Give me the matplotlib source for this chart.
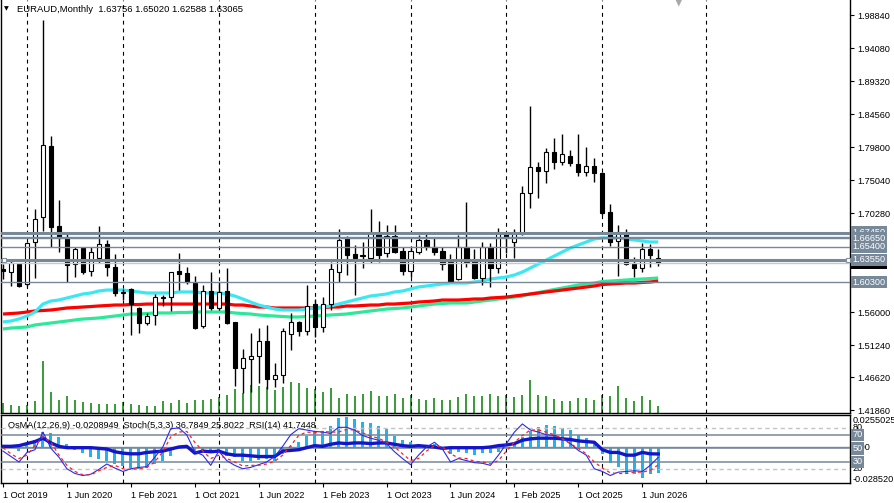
import matplotlib
matplotlib.use("Agg")
import matplotlib.pyplot as plt
from matplotlib.patches import Rectangle

plt.rcParams['font.family'] = ['Liberation Sans', 'DejaVu Sans']

# ---------------- data ----------------
symbol = "EURAUD,Monthly"
opens = [1.6220, 1.6177, 1.6293, 1.6004, 1.6610, 1.6970, 1.7994, 1.6841, 1.6668, 1.6293,
         1.6523, 1.6192, 1.6379, 1.6581, 1.6249, 1.5880, 1.5932, 1.5658, 1.5442, 1.5557,
         1.5803, 1.5817, 1.6192, 1.6163, 1.6019, 1.5398, 1.5903, 1.5658, 1.5903, 1.5456,
         1.4792, 1.4922, 1.4966, 1.5182, 1.4634, 1.4691, 1.5283, 1.5456, 1.5326, 1.5716,
         1.5384, 1.5716, 1.6177, 1.6668, 1.6437, 1.6415, 1.6379, 1.6740, 1.6451, 1.6697,
         1.6480, 1.6192, 1.6466, 1.6639, 1.6538, 1.6480, 1.6321, 1.6076, 1.6538, 1.6336,
         1.6091, 1.6538, 1.6235, 1.6740, 1.6610, 1.6726, 1.7316, 1.7692, 1.7634, 1.7908,
         1.7764, 1.7850, 1.7735, 1.7620, 1.7706, 1.7605, 1.7043, 1.6624, 1.6740, 1.6293,
         1.6235, 1.6509, 1.63756]
highs = [1.6290, 1.6336, 1.6307, 1.6610, 1.7086, 1.9812, 1.8139, 1.7216, 1.6725, 1.6538,
         1.6538, 1.6538, 1.6841, 1.6639, 1.6437, 1.5932, 1.5946, 1.5673, 1.5586, 1.5860,
         1.5845, 1.6177, 1.6451, 1.6249, 1.6120, 1.5990, 1.6177, 1.6033, 1.6235, 1.5456,
         1.5066, 1.5297, 1.5369, 1.5413, 1.4864, 1.5369, 1.5586, 1.5470, 1.5990, 1.5788,
         1.5817, 1.6321, 1.6797, 1.6697, 1.6567, 1.6610, 1.7086, 1.6913, 1.6855, 1.6855,
         1.6538, 1.6523, 1.6711, 1.6740, 1.6682, 1.6538, 1.6437, 1.6711, 1.7187, 1.6509,
         1.6610, 1.6596, 1.6812, 1.6755, 1.6797, 1.7417, 1.8571, 1.7764, 1.7966, 1.8110,
         1.8168, 1.7937, 1.8168, 1.7980, 1.7822, 1.7620, 1.7158, 1.6855, 1.6797, 1.6393,
         1.6596, 1.6581, 1.65020]
lows = [1.6080, 1.5975, 1.5960, 1.5980, 1.6091, 1.6768, 1.6538, 1.6466, 1.6033, 1.6105,
        1.6148, 1.6120, 1.6307, 1.6120, 1.5831, 1.5773, 1.5268, 1.5297, 1.5413, 1.5413,
        1.5687, 1.5615, 1.5918, 1.6004, 1.5355, 1.5369, 1.5629, 1.5629, 1.5427, 1.4533,
        1.4432, 1.4446, 1.4576, 1.4490, 1.4518, 1.4576, 1.5052, 1.5254, 1.5268, 1.5240,
        1.5312, 1.5629, 1.6033, 1.6134, 1.5846, 1.6235, 1.6307, 1.6321, 1.6393, 1.6451,
        1.6134, 1.6105, 1.6437, 1.6495, 1.6422, 1.6206, 1.6033, 1.6062, 1.6249, 1.6076,
        1.5990, 1.5961, 1.6163, 1.6451, 1.6379, 1.6711, 1.7100, 1.7244, 1.7461, 1.7663,
        1.7721, 1.7706, 1.7562, 1.7562, 1.7475, 1.6999, 1.6553, 1.6120, 1.6278, 1.6105,
        1.6177, 1.6249, 1.62588]
closes = [1.6195, 1.6307, 1.5975, 1.6595, 1.6942, 1.8009, 1.6826, 1.6668, 1.6278, 1.6509,
          1.6177, 1.6466, 1.6581, 1.6249, 1.5874, 1.5889, 1.5716, 1.5442, 1.5542, 1.5817,
          1.5817, 1.6177, 1.6148, 1.6033, 1.5369, 1.5903, 1.5658, 1.5889, 1.5442, 1.4792,
          1.4937, 1.4966, 1.5182, 1.4634, 1.4691, 1.5326, 1.5456, 1.5326, 1.5687, 1.5384,
          1.5716, 1.6221, 1.6639, 1.6422, 1.6379, 1.6422, 1.6740, 1.6422, 1.6697, 1.6466,
          1.6192, 1.6480, 1.6639, 1.6553, 1.6466, 1.6293, 1.6047, 1.6538, 1.6321, 1.6091,
          1.6538, 1.6235, 1.6740, 1.6682, 1.6726, 1.7316, 1.7692, 1.7634, 1.7908, 1.7764,
          1.7879, 1.7749, 1.7620, 1.7706, 1.7605, 1.7028, 1.6610, 1.6740, 1.6293, 1.6235,
          1.6509, 1.6422, 1.63065]
volumes = [10, 8, 7, 8, 12, 52, 21, 13, 17, 13, 11, 10, 9, 9, 9, 11, 9, 8, 7, 7,
           12, 10, 13, 10, 13, 13, 14, 16, 18, 24, 20, 28, 27, 26, 23, 26, 31, 30, 25, 24,
           21, 25, 15, 19, 17, 19, 22, 17, 17, 19, 15, 18, 14, 13, 15, 13, 13, 16, 19, 17,
           17, 19, 17, 18, 16, 18, 33, 18, 17, 14, 12, 12, 15, 15, 13, 18, 17, 27, 15, 12,
           17, 13, 7]
ma_cyan = [1.5456, 1.5470, 1.5499, 1.5542, 1.5600, 1.5715, 1.5759, 1.5773, 1.5802, 1.5831,
           1.5860, 1.5874, 1.5903, 1.5917, 1.5917, 1.5917, 1.5903, 1.5889, 1.5874, 1.5874,
           1.5874, 1.5874, 1.5889, 1.5889, 1.5889, 1.5874, 1.5874, 1.5874, 1.5860, 1.5831,
           1.5788, 1.5744, 1.5701, 1.5672, 1.5643, 1.5629, 1.5629, 1.5629, 1.5643, 1.5658,
           1.5672, 1.5687, 1.5715, 1.5744, 1.5773, 1.5802, 1.5831, 1.5845, 1.5860, 1.5889,
           1.5903, 1.5932, 1.5961, 1.5975, 1.5990, 1.6004, 1.6018, 1.6018, 1.6018, 1.6033,
           1.6047, 1.6076, 1.6091, 1.6105, 1.6134, 1.6177, 1.6235, 1.6292, 1.6350, 1.6408,
           1.6466, 1.6523, 1.6567, 1.6610, 1.6653, 1.6668, 1.6668, 1.6668, 1.6653, 1.6639,
           1.6624, 1.6610, 1.6610]
ma_red = [1.5571, 1.5578, 1.5586, 1.5600, 1.5615, 1.5622, 1.5629, 1.5643, 1.5658, 1.5665,
          1.5672, 1.5679, 1.5687, 1.5694, 1.5701, 1.5701, 1.5708, 1.5708, 1.5715, 1.5715,
          1.5715, 1.5715, 1.5715, 1.5715, 1.5715, 1.5715, 1.5715, 1.5715, 1.5715, 1.5701,
          1.5701, 1.5687, 1.5672, 1.5672, 1.5658, 1.5658, 1.5658, 1.5658, 1.5658, 1.5658,
          1.5665, 1.5672, 1.5672, 1.5687, 1.5687, 1.5694, 1.5701, 1.5701, 1.5715, 1.5715,
          1.5723, 1.5730, 1.5744, 1.5751, 1.5759, 1.5773, 1.5773, 1.5773, 1.5780, 1.5788,
          1.5788, 1.5802, 1.5809, 1.5816, 1.5831, 1.5845, 1.5860, 1.5874, 1.5889, 1.5903,
          1.5917, 1.5932, 1.5946, 1.5961, 1.5975, 1.5997, 1.6004, 1.6011, 1.6018, 1.6018,
          1.6026, 1.6033, 1.6047]
ma_green = [1.5355, 1.5369, 1.5376, 1.5384, 1.5413, 1.5427, 1.5441, 1.5456, 1.5470, 1.5485,
            1.5499, 1.5506, 1.5514, 1.5528, 1.5542, 1.5557, 1.5571, 1.5571, 1.5578, 1.5586,
            1.5586, 1.5586, 1.5593, 1.5593, 1.5600, 1.5600, 1.5600, 1.5600, 1.5600, 1.5586,
            1.5578, 1.5571, 1.5557, 1.5549, 1.5542, 1.5535, 1.5528, 1.5528, 1.5535, 1.5542,
            1.5549, 1.5557, 1.5564, 1.5571, 1.5586, 1.5600, 1.5615, 1.5629, 1.5643, 1.5650,
            1.5658, 1.5672, 1.5687, 1.5701, 1.5715, 1.5723, 1.5730, 1.5730, 1.5730, 1.5744,
            1.5759, 1.5773, 1.5788, 1.5802, 1.5816, 1.5831, 1.5860, 1.5881, 1.5903, 1.5925,
            1.5946, 1.5968, 1.5990, 1.6004, 1.6018, 1.6040, 1.6047, 1.6054, 1.6062, 1.6069,
            1.6076, 1.6083, 1.6091]
levels_thick = [1.6745, 1.6355]
levels_thin = [1.6685, 1.6665, 1.6540, 1.6030]
level_labels = [1.67450, 1.66650, 1.65400, 1.63550, 1.60300]
bid_price = 1.63065
price_ticks = [1.98840, 1.94080, 1.89320, 1.84560, 1.79800, 1.75040, 1.70280,
               1.56000, 1.51240, 1.46620, 1.41860]

osma = [0.0010, 0.0019, -0.0027, 0.0027, 0.0059, 0.0120, 0.0115, 0.0080, 0.0027, -0.0021,
        -0.0048, -0.0080, -0.0093, -0.0107, -0.0133, -0.0147, -0.0165, -0.0176, -0.0165, -0.0133,
        -0.0107, -0.0067, -0.0013, 0.0010, -0.0048, -0.0040, -0.0040, -0.0021, -0.0067, -0.0080,
        -0.0107, -0.0107, -0.0101, -0.0093, -0.0107, -0.0053, 0.0013, 0.0045, 0.0093, 0.0128,
        0.0128, 0.0173, 0.0235, 0.0240, 0.0227, 0.0205, 0.0195, 0.0173, 0.0147, 0.0093,
        0.0061, 0.0040, 0.0027, 0.0013, 0.0027, -0.0013, -0.0053, -0.0040, -0.0048, -0.0061,
        -0.0048, -0.0048, -0.0040, 0.0005, 0.0032, 0.0080, 0.0133, 0.0160, 0.0181, 0.0173,
        0.0155, 0.0141, 0.0101, 0.0075, 0.0027, -0.0053, -0.0128, -0.0160, -0.0213, -0.0210,
        -0.0245, -0.0213, -0.0208949]
stoch_main = [46, 38, 30, 44, 48, 74, 50, 37, 20, 13, 10, 12, 19, 27, 21, 16, 20, 22, 23, 37,
              52, 79, 80, 70, 45, 40, 25, 46, 32, 25, 20, 22, 26, 30, 38, 53, 70, 79, 77, 75,
              74, 72, 81, 81, 77, 69, 65, 62, 57, 45, 35, 26, 40, 52, 59, 49, 30, 35, 32, 29,
              28, 25, 40, 57, 74, 86, 77, 74, 70, 69, 65, 57, 47, 40, 20, 16, 10, 15, 16, 17,
              16, 25, 36.7849]
stoch_signal = [51, 42, 35, 40, 54, 67, 59, 40, 25, 16, 11, 11, 17, 22, 25, 20, 19, 20, 22, 30,
                45, 67, 74, 75, 59, 46, 35, 40, 35, 30, 24, 25, 25, 27, 31, 40, 54, 69, 74, 73,
                75, 74, 74, 78, 77, 73, 68, 65, 59, 52, 42, 32, 35, 46, 54, 52, 42, 36, 35, 31,
                30, 27, 32, 46, 59, 69, 77, 77, 74, 70, 64, 57, 50, 42, 30, 21, 14, 13, 13, 15,
                15, 17.5, 25.8022]
rsi = [53, 53, 54, 57, 60, 65, 58, 53, 51, 51, 51, 51, 50, 49, 45, 43, 42, 42, 44, 45,
       46, 49, 52, 53, 43, 46, 45, 46, 42, 40, 40, 39, 38, 38, 38, 46, 47, 48, 51, 54,
       53, 56, 58, 57, 58, 58, 57, 58, 58, 56, 54, 53, 54, 53, 52, 50, 51, 51, 51, 51,
       51, 52, 54, 55, 57, 62, 64, 65, 65, 65, 64, 63, 61, 60, 59, 48, 44, 44, 40, 40,
       44, 42, 41.7448]
osma_limits = [-0.028520, 0.0255025]
stoch_levels = [80, 20]
rsi_levels = [70, 50, 30]
date_labels = ["1 Oct 2019", "1 Jun 2020", "1 Feb 2021", "1 Oct 2021", "1 Jun 2022",
               "1 Feb 2023", "1 Oct 2023", "1 Jun 2024", "1 Feb 2025", "1 Oct 2025",
               "1 Jun 2026"]
date_label_idx = [0, 8, 16, 24, 32, 40, 48, 56, 64, 72, 80]
year_grid_idx = [3, 15, 27, 39, 51, 63, 75, 88]

# ---------------- layout ----------------
W, H = 894, 503
fig = plt.figure(figsize=(W / 100, H / 100), dpi=100)
fig.patch.set_facecolor('white')


def px_rect(l, t, r, b):
    return [l / W, (H - b) / H, (r - l) / W, (b - t) / H]


FS = 6.6
LEVEL_C = '#778899'
x = list(range(len(closes)))
XLIM = (-0.25, 106.0)

ax = fig.add_axes(px_rect(1, 0, 850, 413.3))
axv = ax.twinx()
ax.set_zorder(axv.get_zorder() + 1)
ax.patch.set_visible(False)

ax.set_xlim(*XLIM)
ax.set_ylim(1.41390, 2.01004)
axv.set_ylim(0, 413.3)
axv.set_yticks([])
for s in axv.spines.values():
    s.set_visible(False)

# volumes
axv.vlines(x, 0, volumes, color='#008000', lw=1.1)

# grid (year separators)
for g in year_grid_idx:
    ax.axvline(g, color='black', lw=0.8, ls=(0, (3.5, 3.5)), zorder=1)

# moving averages
ax.plot(x, ma_green, color='#2EE89A', lw=2.3, zorder=2, solid_capstyle='butt')
ax.plot(x, ma_red, color='#FF0000', lw=2.3, zorder=2.1, solid_capstyle='butt')
ax.plot(x, ma_cyan, color='#3BE8F2', lw=2.3, zorder=2.2, solid_capstyle='butt')

# candles
bw = 0.52
for i, (o, h, l, c) in enumerate(zip(opens, highs, lows, closes)):
    ax.vlines(i, l, h, color='black', lw=1.0, zorder=3)
    bull = c >= o
    ax.add_patch(Rectangle((i - bw / 2, min(o, c)), bw, abs(c - o),
                           facecolor='white' if bull else 'black',
                           edgecolor='black', lw=0.8, zorder=3.5))

# horizontal levels
for lv in levels_thin:
    ax.axhline(lv, color=LEVEL_C, lw=1.0, zorder=4)
for lv in levels_thick:
    ax.axhline(lv, color=LEVEL_C, lw=2.2, zorder=4)
ax.axhline(bid_price, color='#C8C8C8', lw=1.0, zorder=4)
ax.plot([XLIM[0] + 0.35, XLIM[1] - 0.3], [levels_thick[1]] * 2, 's', ms=3.2,
        mfc='white', mec='#8090A0', mew=0.8, zorder=5, clip_on=False)

# price axis
ax.yaxis.tick_right()
ax.set_yticks(price_ticks)
ax.set_yticklabels([f"{p:.5f}" for p in price_ticks])
ax.tick_params(axis='y', direction='out', length=3, width=0.8, pad=2,
               labelsize=FS, colors='black')
ax.set_xticks([])
ax.spines['top'].set_visible(False)
for s in ['left', 'right', 'bottom']:
    ax.spines[s].set_linewidth(1.0)

ytr = ax.get_yaxis_transform()
ax.text(1.003, bid_price, f"{bid_price:.5f}", transform=ytr, ha='left', va='center',
        fontsize=FS, color='white', zorder=6, clip_on=False,
        bbox=dict(boxstyle='square,pad=0.18', fc='black', ec='none'))
for p in sorted(level_labels, key=lambda v: -v):
    ax.text(1.003, p, f"{p:.5f}", transform=ytr, ha='left', va='center',
            fontsize=FS, color='white', zorder=7, clip_on=False,
            bbox=dict(boxstyle='square,pad=0.18', fc=LEVEL_C, ec='none'))

# title
fig.text(4 / W, 1 - 9 / H, '\u25BC', fontsize=4.5, va='center', ha='left',
         family='DejaVu Sans')
fig.text(17 / W, 1 - 9 / H,
         f"{symbol}  {opens[-1]:.5f} {highs[-1]:.5f} {lows[-1]:.5f} {closes[-1]:.5f}",
         fontsize=6.8, va='center', ha='left', color='black')
fig.text(679 / W, 1 - 1 / H, '\u25BC', fontsize=9, va='center', ha='center',
         color='#A8A8A8', family='DejaVu Sans')

# ---------------- sub window ----------------
axs = fig.add_axes(px_rect(1, 415.3, 850, 483))
axr = axs.twinx()
axs.set_xlim(*XLIM)
axs.set_ylim(*osma_limits)
axr.set_ylim(-1, 98.7)

axs.bar(x, osma, width=0.38, color='#1EB4EE', zorder=2)
axs.axhline(0, color=LEVEL_C, lw=1.0, zorder=1)
for g in year_grid_idx:
    axs.axvline(g, color='black', lw=0.8, ls=(0, (3.5, 3.5)), zorder=1)

for lv in stoch_levels:
    axr.axhline(lv, color='#C4C4C4', lw=1.0, ls=(0, (3, 2.5)), zorder=1)
for lv in rsi_levels:
    axr.axhline(lv, color=LEVEL_C, lw=1.1, zorder=1)
axr.plot(x, rsi, color='#1414C8', lw=2.4, zorder=3)
axr.plot(x, stoch_main, color='#2A2AEE', lw=0.8, zorder=4)
axr.plot(x, stoch_signal, color='#FF2020', lw=0.9, ls=(0, (2.5, 2.5)), zorder=4)

axs.set_yticks([])
axr.set_yticks([])
axs.set_xticks(date_label_idx)
axs.set_xticklabels(date_labels, ha='left')
axs.tick_params(axis='x', direction='out', length=3, width=0.8, pad=3,
                labelsize=FS, colors='black')
for s in axs.spines.values():
    s.set_linewidth(1.0)
for s in axr.spines.values():
    s.set_visible(False)

axs.text(7 / 849, 0.85,
         f"OsMA(12,26,9) {osma[-1]:.7f}  Stoch(5,3,3) {stoch_main[-1]:.4f} "
         f"{stoch_signal[-1]:.4f}  RSI(14) {rsi[-1]:.4f}",
         transform=axs.transAxes, fontsize=FS, va='center', ha='left', zorder=6)

rtr = axr.get_yaxis_transform()
axs.text(1.003, 0.92, f"{osma_limits[1]:.7f}", transform=axs.transAxes, fontsize=FS,
         va='center', ha='left', clip_on=False)
axs.text(1.003, 0.05, f"{osma_limits[0]:.6f}", transform=axs.transAxes, fontsize=FS,
         va='center', ha='left', clip_on=False)
axs.text(1.003, 0.0, "0.00", transform=axs.get_yaxis_transform(), fontsize=FS,
         va='center', ha='left', clip_on=False)
for lv in stoch_levels:
    axr.text(1.003, lv, f"{lv}", transform=rtr, fontsize=FS, va='center', ha='left',
             clip_on=False, zorder=5)
for lv in rsi_levels:
    axr.text(1.003, lv, f"{lv}", transform=rtr, fontsize=FS, va='center', ha='left',
             color='white', clip_on=False, zorder=6,
             bbox=dict(boxstyle='square,pad=0.18', fc=LEVEL_C, ec='none'))

fig.savefig("out.png", dpi=100)
